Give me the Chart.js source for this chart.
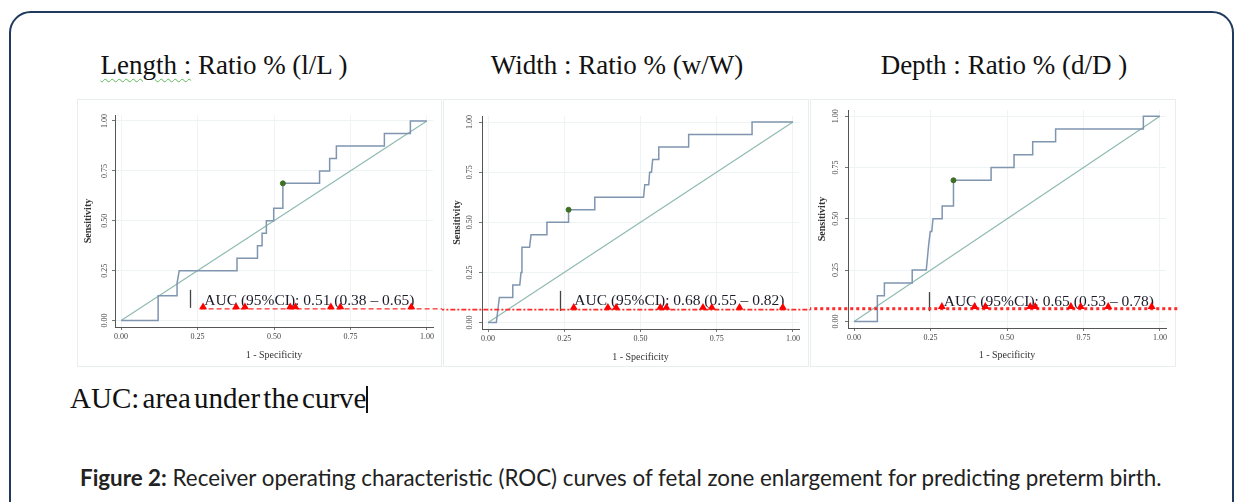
<!DOCTYPE html>
<html>
<head>
<meta charset="utf-8">
<script src="https://cdn.jsdelivr.net/npm/chart.js@4.4.1/dist/chart.umd.min.js"></script>
<style>
  html, body { margin: 0; padding: 0; background: #fff; }
  body { width: 1234px; height: 502px; position: relative; overflow: hidden; }
  .frame { position: absolute; left: 9px; top: 11px; width: 1225px; height: 520px;
           border: 2.5px solid #1f3a5c; border-radius: 22px; box-sizing: border-box; }
  .title { position: absolute; top: 52px; font: 27px "Liberation Serif", serif; line-height: 1;
           color: #111; white-space: nowrap; transform: translateX(-50%); }
  .spell { text-decoration: underline wavy #5cb85c; text-decoration-thickness: 1px; text-underline-offset: 4px; }
  .panel { position: absolute; border: 1px solid #e8eeee; box-sizing: border-box; }
  canvas.roc { position: absolute; }
  .note { position: absolute; left: 70px; top: 384px; font: 29px "Liberation Serif", serif; line-height: 1;
          color: #111; white-space: nowrap; word-spacing: -4px; }
  .cursor { position: absolute; left: 366px; top: 386px; width: 1.5px; height: 27px; background: #111; }
  .caption { position: absolute; left: 80px; top: 467px; font: 20px Lato, "Open Sans", sans-serif; line-height: 1;
             color: #222; white-space: nowrap; }
  .caption b { font-weight: 700; }
</style>
</head>
<body>
<div class="frame"></div>

<div class="title" style="left:224px"><span class="spell">Length :</span> Ratio % (l/L )</div>
<div class="title" style="left:617px">Width : Ratio % (w/W)</div>
<div class="title" style="left:1004px">Depth : Ratio % (d/D )</div>

<div class="panel" style="left:77px;top:99px;width:365px;height:268px"></div>
<div class="panel" style="left:443px;top:99px;width:366px;height:268px"></div>
<div class="panel" style="left:810px;top:99px;width:366px;height:268px"></div>

<canvas class="roc" id="rocLength"></canvas>
<canvas class="roc" id="rocWidth"></canvas>
<canvas class="roc" id="rocDepth"></canvas>

<div class="note" id="note">AUC: area under the curve</div>
<div class="cursor"></div>
<div class="caption" id="caption"><b>Figure 2:</b> Receiver operating characteristic (ROC) curves of fetal zone enlargement for predicting preterm birth.</div>

<script>
// ---- data ----
const tickValues = [0, 0.25, 0.5, 0.75, 1];
const tickLabels = ['0.00', '0.25', '0.50', '0.75', '1.00'];
const xTitle = '1 - Specificity';
const yTitle = 'Sensitivity';

// ROC steps (1 - specificity, sensitivity)
const lengthFpr = [0, 0.121, 0.121, 0.183, 0.183, 0.19, 0.379, 0.379, 0.446, 0.446, 0.461, 0.461, 0.475, 0.475,
  0.499, 0.499, 0.529, 0.529, 0.649, 0.649, 0.682, 0.682, 0.704, 0.704, 0.861, 0.861, 0.946, 0.946, 1];
const lengthTpr = [0, 0, 0.125, 0.125, 0.1875, 0.25, 0.25, 0.3125, 0.3125, 0.375, 0.375, 0.4375, 0.4375, 0.5,
  0.5, 0.5625, 0.5625, 0.6875, 0.6875, 0.75, 0.75, 0.8125, 0.8125, 0.875, 0.875, 0.9375, 0.9375, 1, 1];

const widthFpr = [0, 0.027, 0.037, 0.081, 0.081, 0.104, 0.108, 0.111, 0.111, 0.136, 0.141, 0.193, 0.193, 0.264,
  0.264, 0.35, 0.35, 0.51, 0.514, 0.527, 0.53, 0.536, 0.54, 0.56, 0.56, 0.658, 0.658, 0.866, 0.866, 1];
const widthTpr = [0, 0, 0.125, 0.125, 0.1875, 0.1875, 0.25, 0.3125, 0.375, 0.375, 0.4375, 0.4375, 0.5, 0.5,
  0.5625, 0.5625, 0.625, 0.625, 0.6875, 0.6875, 0.75, 0.75, 0.8125, 0.8125, 0.875, 0.875, 0.9375, 0.9375, 1, 1];

const depthFpr = [0, 0.076, 0.076, 0.099, 0.099, 0.19, 0.19, 0.236, 0.24, 0.244, 0.249, 0.254, 0.258, 0.288,
  0.288, 0.325, 0.325, 0.448, 0.448, 0.523, 0.523, 0.584, 0.584, 0.659, 0.659, 0.946, 0.946, 1];
const depthTpr = [0, 0, 0.125, 0.125, 0.1875, 0.1875, 0.25, 0.25, 0.3125, 0.375, 0.4375, 0.4375, 0.5, 0.5,
  0.5625, 0.5625, 0.6875, 0.6875, 0.75, 0.75, 0.8125, 0.8125, 0.875, 0.875, 0.9375, 0.9375, 1, 1];

// optimal cut-off point (green dot)
const cutoffs = [[0.529, 0.6875], [0.264, 0.5625], [0.325, 0.6875]];

// chance line
const chanceX = [0, 1];
const chanceY = [0, 1];

// red markers along the reference line
const lengthMarks = [0.268, 0.376, 0.405, 0.553, 0.570, 0.686, 0.717, 0.949];
const widthMarks = [0.281, 0.393, 0.420, 0.565, 0.585, 0.705, 0.734, 0.825, 0.967];
const depthMarks = [0.287, 0.394, 0.429, 0.576, 0.592, 0.709, 0.741, 0.831, 0.973];
const markLevel = [0.068, 0.075, 0.072];

// red dashed reference line (runs across the three panels)
const refLevel = [0.059, 0.065, 0.062];
const refFrom = [0.26, -0.16, -0.15];
const refTo = [1.06, 1.06, 1.058];

const aucTexts = [
  'AUC (95%CI): 0.51 (0.38 \u2013 0.65)',
  'AUC (95%CI): 0.68 (0.55 \u2013 0.82)',
  'AUC (95%CI): 0.65 (0.53 \u2013 0.78)'
];

// ---- layout of each panel (pixels) ----
const panels = [
  { id: 'rocLength', fpr: lengthFpr, tpr: lengthTpr, marks: lengthMarks,
    canvas: [77, 99, 442, 367], area: [115, 115, 433, 327], yTitlePad: 5, xTitlePad: 6, yTickPad: 0,
    textAt: [0.272, 0.079], barAt: [0.226, 0.064, 0.154], refWidth: 1.3, refDash: [5, 3] },
  { id: 'rocWidth', fpr: widthFpr, tpr: widthTpr, marks: widthMarks,
    canvas: [442, 99, 810, 367], area: [482, 116, 799, 329], yTitlePad: 9, xTitlePad: 4, yTickPad: 2,
    textAt: [0.283, 0.086], barAt: [0.237, 0.058, 0.158], refWidth: 1.8, refDash: [5, 2, 2, 2] },
  { id: 'rocDepth', fpr: depthFpr, tpr: depthTpr, marks: depthMarks,
    canvas: [810, 99, 1180, 367], area: [848, 110, 1166, 328], yTitlePad: 6, xTitlePad: 6, yTickPad: 2,
    textAt: [0.293, 0.075], barAt: [0.246, 0.05, 0.143], refWidth: 3, refDash: [3, 3] }
];

Chart.defaults.font.family = '"Liberation Serif", serif';

// AUC label drawn in data coordinates
const aucLabel = {
  id: 'aucLabel',
  beforeDatasetsDraw(chart, args, opts) {
    const { ctx, scales: { x, y } } = chart;
    ctx.save();
    ctx.strokeStyle = '#444';
    ctx.lineWidth = 1.3;
    const bx = Math.round(x.getPixelForValue(opts.bar[0])) + 0.5;
    ctx.beginPath();
    ctx.moveTo(bx, y.getPixelForValue(opts.bar[1]));
    ctx.lineTo(bx, y.getPixelForValue(opts.bar[2]));
    ctx.stroke();
    ctx.font = '15.5px "Liberation Serif"';
    ctx.fillStyle = '#1c1c2a';
    ctx.textBaseline = 'alphabetic';
    ctx.fillText(opts.text, x.getPixelForValue(opts.at[0]), y.getPixelForValue(opts.at[1]));
    ctx.restore();
  }
};

function axis(p, isX) {
  const [cl, ct, cr, cb] = p.canvas;
  const [al, at, ar, ab] = p.area;
  return {
    type: 'linear',
    position: isX ? 'bottom' : 'left',
    min: isX ? -0.02 : -0.032,
    max: isX ? 1.02 : 1.03,
    afterBuildTicks: (scale) => { scale.ticks = tickValues.map((v) => ({ value: v })); },
    afterFit: (scale) => {
      if (isX) scale.height = cb - ab;
      else scale.width = al - cl;
    },
    grid: { color: '#eef3f3', lineWidth: 1, tickLength: 3, tickColor: '#777', drawTicks: true },
    border: { color: '#555', width: 1 },
    ticks: {
      autoSkip: false,
      font: { size: 8 },
      color: '#444',
      padding: isX ? 2 : p.yTickPad,
      minRotation: isX ? 0 : 90,
      maxRotation: isX ? 0 : 90,
      crossAlign: isX ? 'near' : 'center',
      callback: (v, i) => tickLabels[i]
    },
    title: {
      display: true,
      text: isX ? xTitle : yTitle,
      color: '#333',
      font: { size: 10, weight: isX ? 'normal' : 'bold' },
      padding: isX ? { top: 0, bottom: p.xTitlePad } : { top: p.yTitlePad, bottom: 0 }
    }
  };
}

panels.forEach((p, i) => {
  const [cl, ct, cr, cb] = p.canvas;
  const [al, at, ar, ab] = p.area;
  const canvas = document.getElementById(p.id);
  canvas.width = cr - cl;
  canvas.height = cb - ct;
  canvas.style.left = cl + 'px';
  canvas.style.top = ct + 'px';

  const curve = p.fpr.map((v, k) => ({ x: v, y: p.tpr[k] }));
  const chance = chanceX.map((v, k) => ({ x: v, y: chanceY[k] }));
  const marks = p.marks.map((v) => ({ x: v, y: markLevel[i] }));
  const refLine = [{ x: refFrom[i], y: refLevel[i] }, { x: refTo[i], y: refLevel[i] }];

  new Chart(canvas, {
    type: 'scatter',
    data: {
      datasets: [
        { label: 'chance', data: chance, showLine: true, borderColor: '#8fbab1', borderWidth: 1.2,
          pointRadius: 0, order: 4 },
        { label: 'ROC', data: curve, showLine: true, borderColor: '#7f95b0', borderWidth: 1.5,
          pointRadius: 0, tension: 0, order: 3 },
        { label: 'cut-off', data: [{ x: cutoffs[i][0], y: cutoffs[i][1] }], pointRadius: 2.5,
          backgroundColor: '#3f6e25', borderColor: '#3f6e25', order: 2 },
        { label: 'reference', data: refLine, showLine: true, borderColor: '#ff2a2a',
          borderWidth: p.refWidth, borderDash: p.refDash, pointRadius: 0, clip: false, order: 1 },
        { label: 'markers', data: marks, pointStyle: 'triangle', pointRadius: 4.6,
          backgroundColor: '#ff0000', borderColor: '#ff0000', borderWidth: 0, clip: false, order: 0 }
      ]
    },
    options: {
      responsive: false,
      animation: false,
      events: [],
      layout: { autoPadding: false, padding: { left: 0, top: at - ct, right: cr - ar, bottom: 0 } },
      scales: { x: axis(p, true), y: axis(p, false) },
      plugins: {
        legend: { display: false },
        tooltip: { enabled: false },
        aucLabel: { text: aucTexts[i], at: p.textAt, bar: p.barAt }
      }
    },
    plugins: [aucLabel]
  });
});

// fit the free text lines to the widths seen in the figure
function fitWidth(el, target) {
  const size = parseFloat(getComputedStyle(el).fontSize);
  const w = el.getBoundingClientRect().width;
  el.style.fontSize = (size * target / w) + 'px';
}
fitWidth(document.getElementById('caption'), 1082);
</script>
</body>
</html>
